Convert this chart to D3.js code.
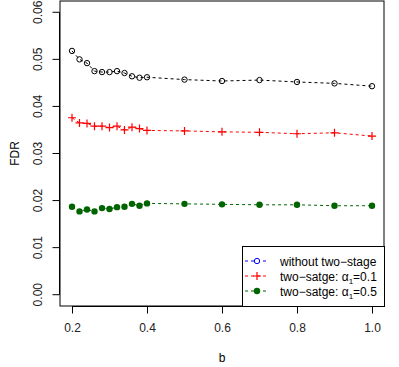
<!DOCTYPE html>
<html>
<head>
<meta charset="utf-8">
<script src="https://cdn.jsdelivr.net/npm/d3@7"></script>
<style>
  body { margin: 0; background: #fff; }
  text { font-family: "Liberation Sans", Arial, sans-serif; }
</style>
</head>
<body>
<div id="svg"></div>
<script>
// data
var bValues = [0.2,0.22,0.24,0.26,0.28,0.30,0.32,0.34,0.36,0.38,0.40,0.5,0.6,0.7,0.8,0.9,1.0]
var fdrWithout = [0.0518,0.0500,0.0492,0.0475,0.0473,0.0473,0.0475,0.0471,0.0464,0.0461,0.0462,0.0457,0.0454,0.0456,0.0452,0.0449,0.0443]
var fdrAlpha01 = [0.0376,0.0365,0.0364,0.0358,0.0358,0.0355,0.0358,0.0350,0.0356,0.0353,0.0349,0.0348,0.0346,0.0345,0.0342,0.0344,0.0337]
var fdrAlpha05 = [0.0187,0.0177,0.0181,0.0177,0.0184,0.0182,0.0186,0.0187,0.0193,0.0189,0.0194,0.0193,0.0192,0.0191,0.0191,0.0189,0.0189]
var xTicks = [0.2,0.4,0.6,0.8,1.0]
var yTicks = [0,0.01,0.02,0.03,0.04,0.05,0.06]
var legendLabels = ["without two\u2212stage", "two\u2212satge: ", "two\u2212satge: "]
var legendAlpha = [null, "0.1", "0.5"]

var margin = {top: 1, right: 15, bottom: 61, left: 60},
    width = 399 - margin.left - margin.right,
    height = 367 - margin.top - margin.bottom;

var svg = d3.select("#svg")
  .append("svg")
    .attr("width", 399)
    .attr("height", 367)
  .append("g")
    .attr("transform", "translate(" + margin.left + "," + margin.top + ")");

var x = d3.scaleLinear().domain([0.168, 1.032]).range([0, width]);
var y = d3.scaleLinear().domain([-0.0024, 0.0624]).range([height, 0]);

// box
svg.append("rect")
  .attr("x", 0).attr("y", 0)
  .attr("width", width).attr("height", height)
  .style("fill", "none").style("stroke", "black").style("stroke-width", 1);

// x axis
var xAxis = svg.append("g")
  .attr("transform", "translate(0," + (height + 0.5) + ")")
  .call(d3.axisBottom(x).tickValues(xTicks).tickFormat(d3.format(".1f")).tickSize(7).tickPadding(10));
xAxis.select(".domain").attr("d", "M" + x(0.2) + ",0H" + x(1.0)).style("stroke", "black");
xAxis.selectAll("text").style("font-size", "12px").style("fill", "#222");

// y axis
var yAxis = svg.append("g")
  .attr("transform", "translate(-0.5,0)")
  .call(d3.axisLeft(y).tickValues(yTicks).tickFormat(d3.format(".2f")).tickSize(7));
yAxis.select(".domain").attr("d", "M0," + y(0) + "V" + y(0.06)).style("stroke", "black");
yAxis.selectAll("text")
  .style("font-size", "12px").style("fill", "#222")
  .attr("x", null).attr("dy", null)
  .attr("text-anchor", "middle")
  .attr("transform", function (d) { return "translate(-18," + y(d) + ") rotate(-90)"; })
  .attr("y", 0);
yAxis.selectAll(".tick").attr("transform", function (d) { return "translate(0," + y(d) + ")"; });
yAxis.selectAll(".tick text").attr("transform", "translate(-18,0) rotate(-90)");

// axis titles
svg.append("text")
  .attr("x", width / 2).attr("y", 362 - margin.top)
  .attr("text-anchor", "middle")
  .style("font-size", "12px")
  .text("b");
svg.append("text")
  .attr("transform", "translate(" + (19 - margin.left) + "," + (height / 2) + ") rotate(-90)")
  .attr("text-anchor", "middle")
  .style("font-size", "12px")
  .text("FDR");

function series(vals, color, shape) {
  var pts = bValues.map(function (b, i) { return [x(b), y(vals[i])]; });
  svg.append("path")
    .attr("d", d3.line()(pts))
    .style("fill", "none").style("stroke", color)
    .style("stroke-dasharray", "3,3").style("stroke-width", 1);
  var g = svg.append("g");
  pts.forEach(function (p) {
    if (shape == "circle") {
      g.append("circle").attr("cx", p[0]).attr("cy", p[1]).attr("r", 2.7)
        .style("fill", "none").style("stroke", color).style("stroke-width", 1);
    } else if (shape == "dot") {
      g.append("circle").attr("cx", p[0]).attr("cy", p[1]).attr("r", 3.2)
        .style("fill", color).style("stroke", "none");
    } else {
      g.append("path").attr("d", "M" + (p[0] - 4) + "," + p[1] + "H" + (p[0] + 4) + "M" + p[0] + "," + (p[1] - 4) + "V" + (p[1] + 4))
        .style("stroke", color).style("stroke-width", 1.2);
    }
  });
}

series(fdrWithout, "black", "circle");
series(fdrAlpha01, "red", "plus");
series(fdrAlpha05, "#006400", "dot");

// legend
var lg = svg.append("g").attr("transform", "translate(" + (242 - margin.left) + "," + (246 - margin.top) + ")");
lg.append("rect").attr("x", 0.5).attr("y", 0.5)
  .attr("width", width - (242 - margin.left)).attr("height", height - (246 - margin.top))
  .style("fill", "white").style("stroke", "black");
var legColors = ["blue", "red", "#006400"];
var legShapes = ["circle", "plus", "dot"];
legendLabels.forEach(function (lab, i) {
  var cy = 15 + i * 15;
  lg.append("line").attr("x1", 3).attr("x2", 27).attr("y1", cy).attr("y2", cy)
    .style("stroke", legColors[i]).style("stroke-dasharray", "3,3");
  if (legShapes[i] == "circle") {
    lg.append("circle").attr("cx", 15).attr("cy", cy).attr("r", 2.7)
      .style("fill", "white").style("stroke", legColors[i]);
  } else if (legShapes[i] == "dot") {
    lg.append("circle").attr("cx", 15).attr("cy", cy).attr("r", 3.2).style("fill", legColors[i]);
  } else {
    lg.append("path").attr("d", "M11," + cy + "H19M15," + (cy - 4) + "V" + (cy + 4))
      .style("stroke", legColors[i]).style("stroke-width", 1.2);
  }
  var t = lg.append("text").attr("x", 38).attr("y", cy + 4.5).style("font-size", "12px").text(lab);
  if (legendAlpha[i]) {
    t.append("tspan").text("\u03b1");
    t.append("tspan").attr("dy", 3).style("font-size", "8px").text("1");
    t.append("tspan").attr("dy", -3).text("=" + legendAlpha[i]);
  }
});
</script>
</body>
</html>
